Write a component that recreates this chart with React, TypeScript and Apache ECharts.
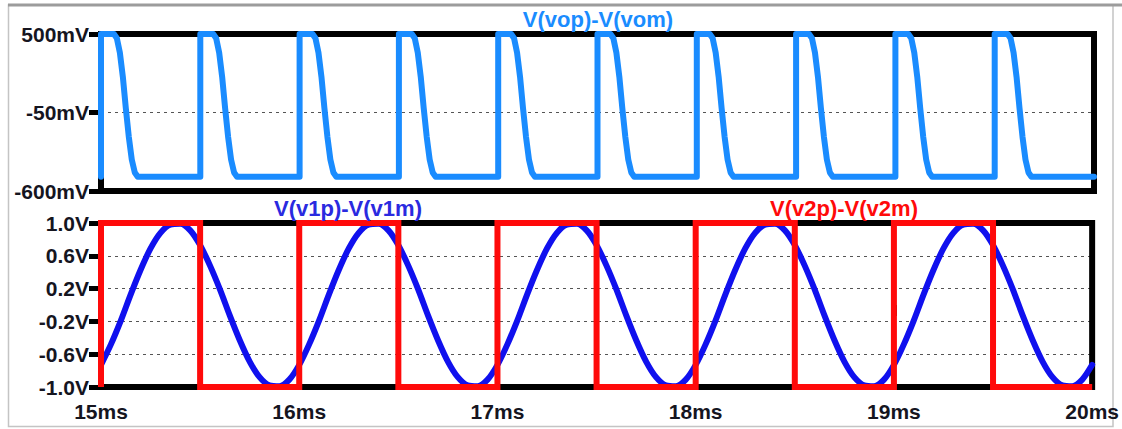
import React, { useEffect, useRef } from "react";
import * as echarts from "echarts";

// ---------- data ----------
const xMin = 15;
const xMax = 20;
const outTickValues = [-600, -50, 500]; // mV
const inTickValues = [-1.0, -0.6, -0.2, 0.2, 0.6, 1.0]; // V

const outTitle = "V(vop)-V(vom)";
const sineTitle = "V(v1p)-V(v1m)";
const squareTitle = "V(v2p)-V(v2m)";

// V(vop)-V(vom) in mV : [time ms, value mV]
const outData: [number, number][] = [
  [15, -500], [15, 500], [15.065, 500], [15.08, 470], [15.095, 370], [15.11, 200], [15.125, -20], [15.14, -220], [15.155, -380], [15.17, -470], [15.185, -500],
  [15.5, -500], [15.5, 500], [15.565, 500], [15.58, 470], [15.595, 370], [15.61, 200], [15.625, -20], [15.64, -220], [15.655, -380], [15.67, -470], [15.685, -500],
  [16, -500], [16, 500], [16.065, 500], [16.08, 470], [16.095, 370], [16.11, 200], [16.125, -20], [16.14, -220], [16.155, -380], [16.17, -470], [16.185, -500],
  [16.5, -500], [16.5, 500], [16.565, 500], [16.58, 470], [16.595, 370], [16.61, 200], [16.625, -20], [16.64, -220], [16.655, -380], [16.67, -470], [16.685, -500],
  [17, -500], [17, 500], [17.065, 500], [17.08, 470], [17.095, 370], [17.11, 200], [17.125, -20], [17.14, -220], [17.155, -380], [17.17, -470], [17.185, -500],
  [17.5, -500], [17.5, 500], [17.565, 500], [17.58, 470], [17.595, 370], [17.61, 200], [17.625, -20], [17.64, -220], [17.655, -380], [17.67, -470], [17.685, -500],
  [18, -500], [18, 500], [18.065, 500], [18.08, 470], [18.095, 370], [18.11, 200], [18.125, -20], [18.14, -220], [18.155, -380], [18.17, -470], [18.185, -500],
  [18.5, -500], [18.5, 500], [18.565, 500], [18.58, 470], [18.595, 370], [18.61, 200], [18.625, -20], [18.64, -220], [18.655, -380], [18.67, -470], [18.685, -500],
  [19, -500], [19, 500], [19.065, 500], [19.08, 470], [19.095, 370], [19.11, 200], [19.125, -20], [19.14, -220], [19.155, -380], [19.17, -470], [19.185, -500],
  [19.5, -500], [19.5, 500], [19.565, 500], [19.58, 470], [19.595, 370], [19.61, 200], [19.625, -20], [19.64, -220], [19.655, -380], [19.67, -470], [19.685, -500],
  [20, -500],
];

// V(v1p)-V(v1m) sampled every 0.05 ms from 15 ms
const sineStart = 15;
const sineStep = 0.05;
const sineValues = [
  -0.73, -0.48, -0.19, 0.13, 0.43, 0.69, 0.88, 0.98, 0.99, 0.91, 0.73, 0.48, 0.19, -0.13, -0.43, -0.69, -0.88, -0.98, -0.99, -0.91,
  -0.73, -0.48, -0.19, 0.13, 0.43, 0.69, 0.88, 0.98, 0.99, 0.91, 0.73, 0.48, 0.19, -0.13, -0.43, -0.69, -0.88, -0.98, -0.99, -0.91,
  -0.73, -0.48, -0.19, 0.13, 0.43, 0.69, 0.88, 0.98, 0.99, 0.91, 0.73, 0.48, 0.19, -0.13, -0.43, -0.69, -0.88, -0.98, -0.99, -0.91,
  -0.73, -0.48, -0.19, 0.13, 0.43, 0.69, 0.88, 0.98, 0.99, 0.91, 0.73, 0.48, 0.19, -0.13, -0.43, -0.69, -0.88, -0.98, -0.99, -0.91,
  -0.73, -0.48, -0.19, 0.13, 0.43, 0.69, 0.88, 0.98, 0.99, 0.91, 0.73, 0.48, 0.19, -0.13, -0.43, -0.69, -0.88, -0.98, -0.99, -0.91,
  -0.73,
];

// V(v2p)-V(v2m) : [time ms, value V]
const squareData: [number, number][] = [
  [15, -1], [15, 1], [15.5, 1], [15.5, -1],
  [16, -1], [16, 1], [16.5, 1], [16.5, -1],
  [17, -1], [17, 1], [17.5, 1], [17.5, -1],
  [18, -1], [18, 1], [18.5, 1], [18.5, -1],
  [19, -1], [19, 1], [19.5, 1], [19.5, -1],
  [20, -1],
];

// ---------- styles ----------
const FONT = '"Liberation Sans", Arial, sans-serif';
const LABEL_COLOR = "#15151f";
const OUT_COLOR = "#1a8cff";
const SINE_COLOR = "#1010ee";
const SQUARE_COLOR = "#ff0a0a";

export default function App() {
  const ref = useRef<HTMLDivElement>(null);

  useEffect(() => {
    if (!ref.current) return;
    const chart = echarts.init(ref.current, undefined, { renderer: "svg" });

    const sineData = sineValues.map((v, i) => [
      Math.round((sineStart + i * sineStep) * 1000) / 1000,
      v,
    ]);

    const labelStyle = {
      fontWeight: "bold" as const,
      fontSize: 21,
      fontFamily: FONT,
      color: LABEL_COLOR,
    };
    const splitLine = {
      show: true,
      lineStyle: { color: "#555", width: 1, type: [3, 4] as number[] },
    };

    const option: any = {
      animation: false,
      backgroundColor: "#fff",
      grid: [
        {
          left: 101, width: 993, top: 34, height: 157,
          show: true, borderColor: "#000", borderWidth: 6,
          backgroundColor: "transparent",
        },
        {
          left: 101, width: 993, top: 223, height: 164,
          show: true, borderColor: "#000", borderWidth: 6,
          backgroundColor: "transparent",
        },
      ],
      xAxis: [
        {
          gridIndex: 0, type: "value", min: xMin, max: xMax, interval: 1,
          axisLine: { show: false }, axisTick: { show: false },
          axisLabel: { show: false }, splitLine: { show: false },
        },
        {
          gridIndex: 1, type: "value", min: xMin, max: xMax, interval: 1,
          axisLine: { show: false },
          axisTick: { show: true, length: 11, lineStyle: { color: "#000", width: 5 } },
          axisLabel: { ...labelStyle, margin: 14, formatter: (v: number) => `${v}ms` },
          splitLine: { show: false },
        },
      ],
      yAxis: [
        {
          gridIndex: 0, type: "value", min: -600, max: 500, z: -1,
          axisLine: { show: false },
          axisTick: {
            show: true, length: 12, customValues: outTickValues,
            lineStyle: { color: "#000", width: 5 },
          },
          axisLabel: {
            ...labelStyle, margin: 12, customValues: outTickValues,
            formatter: (v: number) => `${v}mV`,
          },
          splitLine,
        },
        {
          gridIndex: 1, type: "value", min: -1, max: 1, z: -1,
          axisLine: { show: false },
          axisTick: {
            show: true, length: 12, customValues: inTickValues,
            lineStyle: { color: "#000", width: 5 },
          },
          axisLabel: {
            ...labelStyle, margin: 12, customValues: inTickValues,
            formatter: (v: number) => `${v.toFixed(1)}V`,
          },
          splitLine,
        },
      ],
      series: [
        {
          name: outTitle, type: "line", xAxisIndex: 0, yAxisIndex: 0,
          data: outData, showSymbol: false, clip: false,
          lineStyle: { color: OUT_COLOR, width: 6, join: "round", cap: "round" },
        },
        {
          name: sineTitle, type: "line", xAxisIndex: 1, yAxisIndex: 1,
          data: sineData, showSymbol: false, clip: false, smooth: 0.3,
          lineStyle: { color: SINE_COLOR, width: 6, join: "round", cap: "round" },
        },
        {
          name: squareTitle, type: "line", xAxisIndex: 1, yAxisIndex: 1,
          data: squareData, showSymbol: false, clip: false,
          lineStyle: { color: SQUARE_COLOR, width: 6, join: "miter" },
        },
      ],
      graphic: [
        {
          type: "rect", silent: true, z: -10,
          shape: { x: 8.5, y: 5, width: 1104.5, height: 421.5 },
          style: { fill: "none", stroke: "#c4c4c4", lineWidth: 1.5 },
        },
        {
          type: "line", silent: true, z: -9,
          shape: { x1: 8, y1: 5, x2: 1122, y2: 5 },
          style: { stroke: "#9c9c9c", lineWidth: 3 },
        },
        {
          type: "text", x: 598, y: 19, z: 10,
          style: {
            text: outTitle, fill: OUT_COLOR, font: `bold 22px ${FONT}`,
            textAlign: "center", textVerticalAlign: "middle",
            align: "center", verticalAlign: "middle",
          },
        },
        {
          type: "text", x: 348, y: 208, z: 10,
          style: {
            text: sineTitle, fill: "#2a2ae0", font: `bold 22px ${FONT}`,
            textAlign: "center", textVerticalAlign: "middle",
            align: "center", verticalAlign: "middle",
          },
        },
        {
          type: "text", x: 844, y: 208, z: 10,
          style: {
            text: squareTitle, fill: SQUARE_COLOR, font: `bold 22px ${FONT}`,
            textAlign: "center", textVerticalAlign: "middle",
            align: "center", verticalAlign: "middle",
          },
        },
      ],
    };

    chart.setOption(option);
    return () => chart.dispose();
  }, []);

  return (
    <div
      ref={ref}
      style={{ position: "absolute", left: 0, top: 0, width: 1122, height: 429 }}
    />
  );
}
